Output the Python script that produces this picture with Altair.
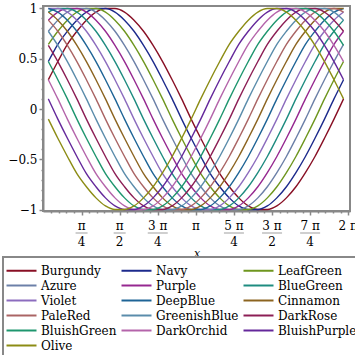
import math
import altair as alt
import pandas as pd

# ---- data ----
x_vals = [0.100, 0.296, 0.493, 0.689, 0.885, 1.082, 1.278, 1.474, 1.671, 1.867,
          2.063, 2.260, 2.456, 2.653, 2.849, 3.045, 3.242, 3.438, 3.634, 3.831,
          4.027, 4.223, 4.420, 4.616, 4.812, 5.009, 5.205, 5.401, 5.598, 5.794,
          5.990, 6.187]

names = ["Burgundy", "Navy", "LeafGreen", "Azure", "Purple", "BlueGreen",
         "Violet", "DeepBlue", "Cinnamon", "PaleRed", "GreenishBlue", "DarkRose",
         "BluishGreen", "DarkOrchid", "BluishPurple", "Olive"]
colors = ["#880f24", "#1c2a8c", "#6e961e", "#6c80a8", "#962890", "#1e8c80",
          "#8c6cbe", "#1e6496", "#8c6420", "#aa6464", "#5a8cab", "#8c1e55",
          "#1e966e", "#b464aa", "#64289b", "#8c8c14"]

burgundy = [0.29,0.47,0.64,0.77,0.88,0.96,0.995,0.995,0.96,0.88,0.77,0.63,0.47,0.29,0.10,-0.10,-0.29,-0.47,-0.64,-0.77,-0.88,-0.96,-0.995,-0.995,-0.96,-0.88,-0.77,-0.63,-0.47,-0.29,-0.10,0.10]
navy = [0.47,0.64,0.77,0.88,0.96,0.995,0.995,0.96,0.88,0.77,0.63,0.47,0.29,0.10,-0.10,-0.29,-0.47,-0.64,-0.77,-0.88,-0.96,-0.995,-0.995,-0.96,-0.88,-0.77,-0.63,-0.47,-0.29,-0.10,0.10,0.29]
leafgreen = [0.64,0.77,0.88,0.96,0.995,0.995,0.96,0.88,0.77,0.63,0.47,0.29,0.10,-0.10,-0.29,-0.47,-0.64,-0.77,-0.88,-0.96,-0.995,-0.995,-0.96,-0.88,-0.77,-0.63,-0.47,-0.29,-0.10,0.10,0.29,0.47]
azure = [0.77,0.88,0.96,0.995,0.995,0.96,0.88,0.77,0.63,0.47,0.29,0.10,-0.10,-0.29,-0.47,-0.64,-0.77,-0.88,-0.96,-0.995,-0.995,-0.96,-0.88,-0.77,-0.63,-0.47,-0.29,-0.10,0.10,0.29,0.47,0.64]
purple = [0.88,0.96,0.995,0.995,0.96,0.88,0.77,0.63,0.47,0.29,0.10,-0.10,-0.29,-0.47,-0.64,-0.77,-0.88,-0.96,-0.995,-0.995,-0.96,-0.88,-0.77,-0.63,-0.47,-0.29,-0.10,0.10,0.29,0.47,0.64,0.77]
bluegreen = [0.96,0.995,0.995,0.96,0.88,0.77,0.63,0.47,0.29,0.10,-0.10,-0.29,-0.47,-0.64,-0.77,-0.88,-0.96,-0.995,-0.995,-0.96,-0.88,-0.77,-0.63,-0.47,-0.29,-0.10,0.10,0.29,0.47,0.64,0.77,0.88]
violet = [0.995,0.995,0.96,0.88,0.77,0.63,0.47,0.29,0.10,-0.10,-0.29,-0.47,-0.64,-0.77,-0.88,-0.96,-0.995,-0.995,-0.96,-0.88,-0.77,-0.63,-0.47,-0.29,-0.10,0.10,0.29,0.47,0.64,0.77,0.88,0.96]
deepblue = [0.995,0.96,0.88,0.77,0.63,0.47,0.29,0.10,-0.10,-0.29,-0.47,-0.64,-0.77,-0.88,-0.96,-0.995,-0.995,-0.96,-0.88,-0.77,-0.63,-0.47,-0.29,-0.10,0.10,0.29,0.47,0.64,0.77,0.88,0.96,0.995]
cinnamon = [0.96,0.88,0.77,0.63,0.47,0.29,0.10,-0.10,-0.29,-0.47,-0.64,-0.77,-0.88,-0.96,-0.995,-0.995,-0.96,-0.88,-0.77,-0.63,-0.47,-0.29,-0.10,0.10,0.29,0.47,0.64,0.77,0.88,0.96,0.995,0.995]
palered = [0.88,0.77,0.63,0.47,0.29,0.10,-0.10,-0.29,-0.47,-0.64,-0.77,-0.88,-0.96,-0.995,-0.995,-0.96,-0.88,-0.77,-0.63,-0.47,-0.29,-0.10,0.10,0.29,0.47,0.64,0.77,0.88,0.96,0.995,0.995,0.96]
greenishblue = [0.77,0.63,0.47,0.29,0.10,-0.10,-0.29,-0.47,-0.64,-0.77,-0.88,-0.96,-0.995,-0.995,-0.96,-0.88,-0.77,-0.63,-0.47,-0.29,-0.10,0.10,0.29,0.47,0.64,0.77,0.88,0.96,0.995,0.995,0.96,0.88]
darkrose = [0.63,0.47,0.29,0.10,-0.10,-0.29,-0.47,-0.64,-0.77,-0.88,-0.96,-0.995,-0.995,-0.96,-0.88,-0.77,-0.63,-0.47,-0.29,-0.10,0.10,0.29,0.47,0.64,0.77,0.88,0.96,0.995,0.995,0.96,0.88,0.77]
bluishgreen = [0.47,0.29,0.10,-0.10,-0.29,-0.47,-0.64,-0.77,-0.88,-0.96,-0.995,-0.995,-0.96,-0.88,-0.77,-0.63,-0.47,-0.29,-0.10,0.10,0.29,0.47,0.64,0.77,0.88,0.96,0.995,0.995,0.96,0.88,0.77,0.63]
darkorchid = [0.29,0.10,-0.10,-0.29,-0.47,-0.64,-0.77,-0.88,-0.96,-0.995,-0.995,-0.96,-0.88,-0.77,-0.63,-0.47,-0.29,-0.10,0.10,0.29,0.47,0.64,0.77,0.88,0.96,0.995,0.995,0.96,0.88,0.77,0.63,0.47]
bluishpurple = [0.10,-0.10,-0.29,-0.47,-0.64,-0.77,-0.88,-0.96,-0.995,-0.995,-0.96,-0.88,-0.77,-0.63,-0.47,-0.29,-0.10,0.10,0.29,0.47,0.64,0.77,0.88,0.96,0.995,0.995,0.96,0.88,0.77,0.63,0.47,0.29]
olive = [-0.10,-0.29,-0.47,-0.64,-0.77,-0.88,-0.96,-0.995,-0.995,-0.96,-0.88,-0.77,-0.63,-0.47,-0.29,-0.10,0.10,0.29,0.47,0.64,0.77,0.88,0.96,0.995,0.995,0.96,0.88,0.77,0.63,0.47,0.29,0.10]

series = [burgundy, navy, leafgreen, azure, purple, bluegreen, violet, deepblue,
          cinnamon, palered, greenishblue, darkrose, bluishgreen, darkorchid,
          bluishpurple, olive]

PI = math.pi
tick_values = [PI / 4 * i for i in range(1, 9)]
tick_num = ["π", "π", "3 π", "π", "5 π", "3 π", "7 π", "2 π"]
tick_den = ["4", "2", "4", "", "4", "2", "4", ""]
minor_x = [PI / 20 * i for i in range(0, 41) if i % 5 != 0]
major_y = [-1, -0.5, 0, 0.5, 1]
minor_y = [round(-1 + 0.1 * i, 1) for i in range(21) if i % 5 != 0]

rows = []
for nm, ys in zip(names, series):
    for xv, yv in zip(x_vals, ys):
        rows.append({"x": xv, "y": yv, "name": nm})
df = pd.DataFrame(rows)
ticks_df = pd.DataFrame({"x": tick_values, "num": tick_num, "den": tick_den})

GRAY = "#888888"
FONT = "DejaVu Serif"
xscale = alt.Scale(domain=[-0.01, 6.32], nice=False, zero=False)
yscale = alt.Scale(domain=[-1.01, 1.02], nice=False, zero=False)

lines = alt.Chart(df).mark_line(strokeWidth=1.4, interpolate="monotone").encode(
    x=alt.X("x:Q", scale=xscale,
            axis=alt.Axis(orient="bottom", values=tick_values, labels=False, tickSize=4,
                          grid=False, title="x", titleFont=FONT, titleFontSize=11,
                          titleFontStyle="italic", titleFontWeight="normal",
                          titleColor="black", titleY=42, titleBaseline="middle")),
    y=alt.Y("y:Q", scale=yscale,
            axis=alt.Axis(orient="left", values=major_y, tickSize=4, grid=False, title=None,
                          labelFont=FONT, labelFontSize=12, labelColor="black", labelPadding=2,
                          labelExpr="datum.value < 0 ? '\u2212' + format(-datum.value, '') : format(datum.value, '')")),
    color=alt.Color("name:N", sort=names, scale=alt.Scale(domain=names, range=colors),
                    legend=alt.Legend(title=None, orient="none", legendX=-40, legendY=251,
                                      direction="horizontal", columns=3,
                                      symbolType="M-1.333,0L2.667,0", symbolStrokeWidth=2,
                                      symbolSize=225, labelFont=FONT, labelFontSize=12,
                                      labelColor="black", strokeColor=GRAY, padding=5,
                                      columnPadding=0, rowPadding=0, labelOffset=16)),
)

minor = alt.Chart(df).mark_point(opacity=0).encode(
    x=alt.X("x:Q", scale=xscale,
            axis=alt.Axis(orient="bottom", values=minor_x, labels=False, tickSize=2,
                          grid=False, title=None, domain=False)),
    y=alt.Y("y:Q", scale=yscale,
            axis=alt.Axis(orient="left", values=minor_y, labels=False, tickSize=2,
                          grid=False, title=None, domain=False)),
)

num_text = alt.Chart(ticks_df).mark_text(font=FONT, fontSize=12, baseline="middle",
                                         color="black").encode(
    x=alt.X("x:Q", scale=xscale, axis=None), y=alt.value(220), text="num:N")

den_text = alt.Chart(ticks_df).transform_filter("datum.den != ''").mark_text(
    font=FONT, fontSize=12, baseline="middle", color="black").encode(
    x=alt.X("x:Q", scale=xscale, axis=None), y=alt.value(236), text="den:N")

bars = alt.Chart(ticks_df).transform_filter("datum.den != ''").transform_calculate(
    bw="length(datum.num) > 1 ? 20 : 12").mark_tick(
    orient="horizontal", thickness=2, color="#bbbbbb").encode(
    x=alt.X("x:Q", scale=xscale, axis=None), y=alt.value(227),
    size=alt.Size("bw:Q", scale=None, legend=None))

chart = alt.layer(lines, minor, num_text, bars, den_text).resolve_axis(
    x="independent", y="independent"
).properties(
    width=307, height=205,
    padding={"left": 43, "top": 6, "right": 5, "bottom": 144},
    autosize=alt.AutoSizeParams(type="none"),
    background="white",
).configure_view(stroke=GRAY, strokeWidth=2).configure_axis(
    domainColor=GRAY, domainWidth=2, tickColor=GRAY, tickWidth=1.5
).configure_legend(strokeWidth=2)

chart.save("out.html", embed_options={"renderer": "svg", "actions": False})
